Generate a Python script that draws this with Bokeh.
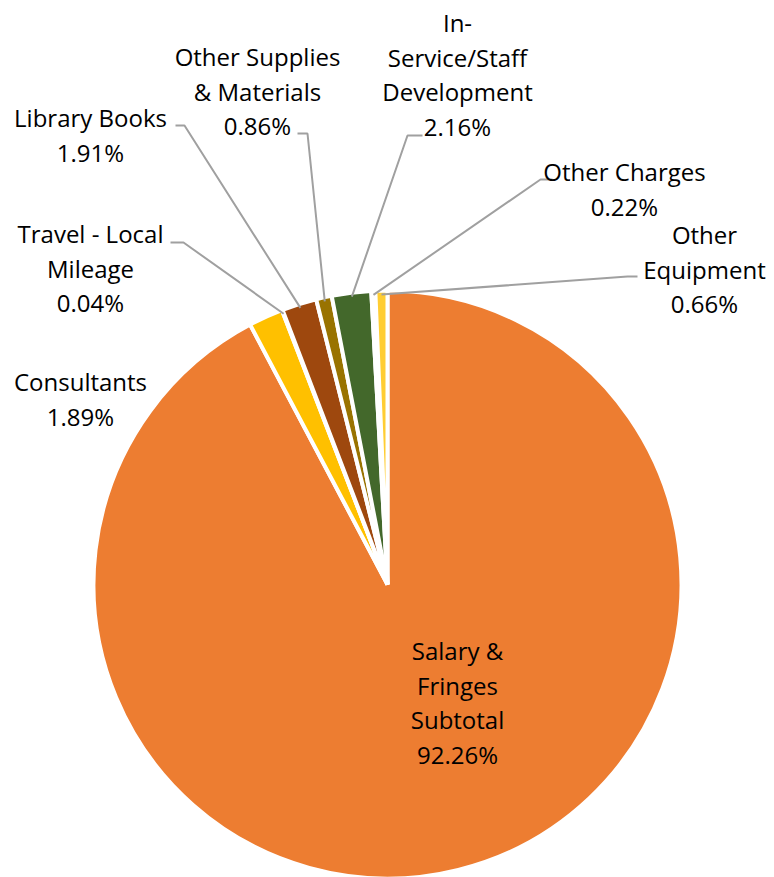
import numpy as np
from bokeh.plotting import figure
from bokeh.models import Range1d, ColumnDataSource
from bokeh.core.properties import value
from bokeh.embed import file_html
from bokeh.resources import INLINE

# ---- data ----
categories = ["Salary & Fringes Subtotal", "Consultants", "Travel - Local Mileage",
              "Library Books", "Other Supplies & Materials",
              "In-Service/Staff Development", "Other Charges", "Other Equipment"]
percents = [92.26, 1.89, 0.04, 1.91, 0.86, 2.16, 0.22, 0.66]
colors = ["#ED7D31", "#FFC000", "#70AD47", "#9E480E", "#997300", "#43682B", "#F1975A", "#FFCD33"]
label_lines = [["Salary &", "Fringes", "Subtotal"], ["Consultants"], ["Travel - Local", "Mileage"],
               ["Library Books"], ["Other Supplies", "& Materials"],
               ["In-", "Service/Staff", "Development"], ["Other Charges"], ["Other", "Equipment"]]

# ---- layout (page pixel coordinates, y downwards) ----
W, H = 774, 877
CX, CY, R = 387, 584, 294
label_x = [457, 80, 90, 90, 257, 457, 624, 704]
label_top = [650, 381, 233, 117, 56, 22, 171, 234]
LINE_H = 34.6
# leader: (start, elbow) per label, None = no leader
leaders = [None, None,
           ((170, 242), (183, 242)),
           ((175, 125), (184, 125)),
           ((297, 133), (307, 133)),
           ((422, 135), (407, 135)),
           ((552, 179), (540, 179)),
           ((637, 276), (627, 276))]

def Y(img_y):
    return H - img_y

p = figure(width=W, height=H, output_backend="svg", toolbar_location=None,
           x_range=Range1d(0, W), y_range=Range1d(0, H), min_border=0)
p.axis.visible = False
p.grid.visible = False
p.outline_line_color = None
p.background_fill_color = "white"
p.border_fill_color = "white"

fr = np.array(percents) / sum(percents)
c1 = np.cumsum(fr)
c0 = c1 - fr
starts = np.pi / 2 - 2 * np.pi * c1
ends = np.pi / 2 - 2 * np.pi * c0
src = ColumnDataSource(dict(start=starts, end=ends, color=colors, name=categories))
p.wedge(x=CX, y=Y(CY), radius=R, start_angle="start", end_angle="end", direction="anticlock",
        fill_color="color", line_color="white", line_width=4, source=src)

# leader lines
mid = (c0 + c1) / 2
for i, ld in enumerate(leaders):
    if ld is None:
        continue
    ang = 2 * np.pi * mid[i]
    ax = CX + (R - 4) * np.sin(ang)
    ay = CY - (R - 4) * np.cos(ang)
    (sx, sy), (ex, ey) = ld
    p.line([sx, ex, ax], [Y(sy), Y(ey), Y(ay)], line_color="#A0A0A0", line_width=2)

# labels
tx, ty, tt = [], [], []
for i, lines in enumerate(label_lines):
    allines = lines + [f"{percents[i]:.2f}%"]
    for k, t in enumerate(allines):
        tx.append(label_x[i])
        ty.append(Y(label_top[i] + k * LINE_H))
        tt.append(t)
p.text(x=tx, y=ty, text=tt, text_align="center", text_baseline="middle",
       text_font=value("Open Sans"), text_font_size="24px", text_color="#000000")

open("out.html", "w").write(file_html(p, INLINE))
